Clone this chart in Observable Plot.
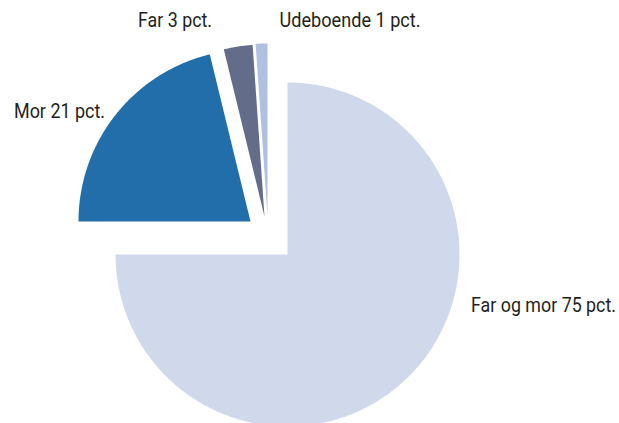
<!DOCTYPE html>
<html>
<head>
<meta charset="utf-8">
<script src="https://cdn.jsdelivr.net/npm/d3@7"></script>
<script src="https://cdn.jsdelivr.net/npm/@observablehq/plot@0.6"></script>
<style>
  html, body { margin: 0; padding: 0; background: #fff; }
  #chart svg { display: block; }
</style>
</head>
<body>
<div id="chart"></div>
<script>
// ---- data ----
const categories = ["Far og mor", "Mor", "Far", "Udeboende"];
const shares = [75, 21.2, 2.7, 1.1];
const labels = ["Far og mor 75 pct.", "Mor 21 pct.", "Far 3 pct.", "Udeboende 1 pct."];
const colors = ["#d0d9eb", "#226eaa", "#636d89", "#afc1df"];

// ---- layout (pixels) ----
const W = 619, H = 423;
const CX = 287, CY = 254, R = 172;
const explodePx = [[0, 0], [-37, -33], [-23, -38], [-20, -39]];
const labelPx = [
  {x: 470.5, y: 305, anchor: "start", w: 145},
  {x: 104.5, y: 111, anchor: "end", w: 91},
  {x: 137.5, y: 20, anchor: "start", w: 74},
  {x: 279, y: 20, anchor: "start", w: 141}
];

const ux = px => (px - CX) / R;
const uy = py => (CY - py) / R;

const arcs = d3.pie().sort(null).value(d => d)(shares);
const slicePts = [];
arcs.forEach((a, i) => {
  const ox = explodePx[i][0] / R, oy = -explodePx[i][1] / R;
  slicePts.push({cat: categories[i], x: ox, y: oy});
  const n = Math.max(2, Math.ceil((a.endAngle - a.startAngle) / (Math.PI / 360)));
  for (let k = 0; k <= n; k++) {
    const t = a.startAngle + (a.endAngle - a.startAngle) * k / n;
    slicePts.push({cat: categories[i], x: ox + Math.sin(t), y: oy + Math.cos(t)});
  }
});

const labelData = labels.map((t, i) => ({
  text: t, x: ux(labelPx[i].x), y: uy(labelPx[i].y), anchor: labelPx[i].anchor
}));

const chart = Plot.plot({
  width: W,
  height: H,
  margin: 0,
  style: {fontFamily: "Roboto, 'DejaVu Sans', sans-serif", background: "#fff"},
  x: {domain: [ux(0), ux(W)], axis: null},
  y: {domain: [uy(H), uy(0)], axis: null},
  color: {domain: categories, range: colors},
  marks: [
    Plot.line(slicePts, {x: "x", y: "y", z: "cat", fill: "cat", stroke: "none", curve: "linear"}),
    Plot.text(labelData, {x: "x", y: "y", text: "text", textAnchor: "start", fontSize: 20, fill: "#231f20", className: "lbl"})
  ]
});
document.getElementById("chart").appendChild(chart);

// fit label widths to the reference (condensed face) and handle end-anchored label
d3.select(chart).selectAll("text").each(function() {
  const el = d3.select(this);
  const i = labels.indexOf(this.textContent);
  if (i < 0) return;
  el.attr("textLength", labelPx[i].w).attr("lengthAdjust", "spacingAndGlyphs");
  if (labelPx[i].anchor === "end") el.attr("text-anchor", "end");
});
</script>
</body>
</html>
